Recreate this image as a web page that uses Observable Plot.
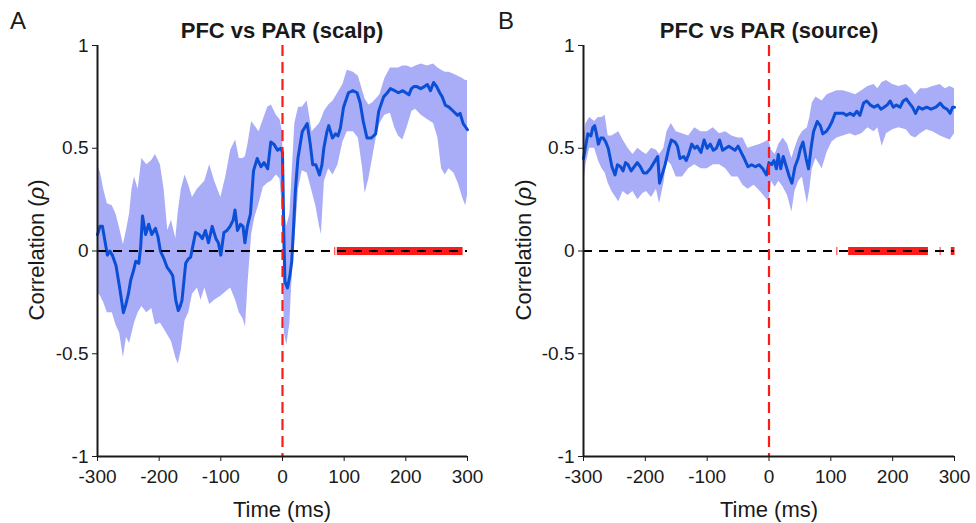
<!DOCTYPE html>
<html><head><meta charset="utf-8">
<script src="https://cdn.jsdelivr.net/npm/d3@7"></script>
<script src="https://cdn.jsdelivr.net/npm/@observablehq/plot@0.6"></script>
<style>
body{margin:0;background:#fff;font-family:"Liberation Sans",Arial,sans-serif;}
#wrap{position:relative;width:976px;height:523px;overflow:hidden;}
.panel{position:absolute;top:0;}
.lbl{position:absolute;color:#1a1a1a;white-space:nowrap;line-height:1;}
.title{font-weight:bold;font-size:22px;text-align:center;width:320px;}
.ylab{font-size:22px;transform:translate(-50%,-50%) rotate(-90deg);}
.xlab{font-size:22px;transform:translate(-50%,-50%);}
.letter{font-size:24px;}
</style></head>
<body><div id="wrap"></div>
<script>
// ---- shared axes ----
const xTicks = [-300, -200, -100, 0, 100, 200, 300];
const yTicks = [-1, -0.5, 0, 0.5, 1];
const yTickLabels = ["-1", "-0.5", "0", "0.5", "1"];
const titles = ["PFC vs PAR (scalp)", "PFC vs PAR (source)"];
const panelLetters = ["A", "B"];

// ---- Panel A (scalp): mean correlation ----
const scalpT = [-300,-296,-292,-288,-284,-280,-276,-270,-264,-258,-254,-250,-246,-242,-238,-233,-230,-227,-222,-217,-212,-206,-202,-198,-192,-187,-182,-178,-173,-169,-166,-163,-157,-153,-149,-145,-141,-135,-130,-125,-120,-114,-108,-104,-100,-95,-90,-85,-80,-77,-73,-68,-64,-61,-57,-52,-47,-41,-35,-30,-24,-19,-14,-8,-3,0,2,4,8,12,15,18,21,25,32,40,45,49,54,60,64,67,72,75,81,86,90,94,99,107,114,121,126,131,137,144,151,156,164,170,175,182,188,195,200,205,209,213,218,224,230,235,240,245,250,255,259,264,270,277,284,288,293,300];
const scalpV = [0.08,0.12,0.12,0.05,-0.02,0.0,-0.02,-0.07,-0.18,-0.30,-0.26,-0.21,-0.14,-0.10,-0.05,-0.06,0.02,0.17,0.08,0.13,0.08,0.11,0.07,0.0,-0.04,-0.08,-0.10,-0.12,-0.24,-0.29,-0.27,-0.24,-0.06,-0.04,-0.03,0.03,0.09,0.08,0.06,0.10,0.04,0.12,0.06,0.04,-0.02,0.09,0.10,0.12,0.15,0.20,0.10,0.13,0.12,0.04,0.12,0.18,0.39,0.45,0.41,0.43,0.40,0.53,0.52,0.49,0.50,0.48,0.10,-0.15,-0.18,-0.12,-0.05,0.12,0.30,0.45,0.58,0.62,0.52,0.42,0.42,0.37,0.42,0.50,0.58,0.61,0.55,0.57,0.56,0.60,0.70,0.77,0.78,0.77,0.72,0.63,0.55,0.55,0.57,0.68,0.75,0.77,0.79,0.78,0.77,0.78,0.77,0.76,0.79,0.80,0.80,0.79,0.80,0.81,0.78,0.82,0.80,0.77,0.75,0.71,0.70,0.68,0.66,0.67,0.62,0.59];
// Panel A confidence band
const scalpBandT = [-300,-295,-290,-284,-276,-270,-264,-258,-253,-248,-244,-240,-234,-228,-220,-212,-206,-198,-192,-186,-180,-173,-169,-164,-158,-152,-146,-138,-132,-126,-118,-110,-100,-92,-84,-76,-70,-64,-60,-56,-50,-45,-38,-31,-24,-18,-10,-4,0,3,7,12,16,20,26,32,40,48,54,60,63,68,75,82,90,98,105,115,123,130,134,140,146,152,158,166,175,182,188,195,202,210,216,225,235,245,252,258,264,270,278,285,292,297,300];
const scalpLo = [-0.20,-0.22,-0.25,-0.30,-0.30,-0.36,-0.40,-0.52,-0.42,-0.45,-0.40,-0.35,-0.30,-0.27,-0.30,-0.28,-0.36,-0.35,-0.38,-0.41,-0.44,-0.52,-0.55,-0.48,-0.34,-0.30,-0.21,-0.18,-0.24,-0.18,-0.26,-0.24,-0.22,-0.20,-0.18,-0.24,-0.30,-0.33,-0.37,-0.16,0.08,0.16,0.23,0.31,0.33,0.34,0.37,0.35,0.20,-0.40,-0.46,-0.35,-0.10,0.05,0.30,0.39,0.38,0.29,0.22,0.12,0.08,0.34,0.40,0.37,0.42,0.53,0.58,0.58,0.55,0.40,0.28,0.35,0.45,0.55,0.62,0.66,0.67,0.60,0.56,0.54,0.60,0.68,0.69,0.66,0.64,0.62,0.55,0.40,0.37,0.40,0.38,0.33,0.26,0.22,0.27];
const scalpHi = [0.42,0.38,0.30,0.23,0.22,0.18,0.11,0.03,0.10,0.18,0.30,0.36,0.30,0.45,0.42,0.44,0.47,0.42,0.30,0.10,0.15,0.06,0.19,0.30,0.37,0.32,0.26,0.30,0.32,0.34,0.42,0.34,0.26,0.36,0.49,0.54,0.45,0.45,0.46,0.52,0.63,0.61,0.58,0.64,0.70,0.71,0.66,0.64,0.58,0.20,0.12,0.18,0.40,0.62,0.70,0.70,0.73,0.58,0.60,0.62,0.64,0.68,0.71,0.73,0.77,0.81,0.88,0.87,0.85,0.78,0.74,0.71,0.72,0.74,0.76,0.84,0.89,0.89,0.89,0.90,0.90,0.89,0.90,0.91,0.90,0.91,0.89,0.88,0.87,0.87,0.86,0.85,0.84,0.83,0.83];
// Panel A significant intervals (ms)
const scalpSig = [[84, 85.5], [88, 292]];

// ---- Panel B (source): mean correlation ----
const sourceT = [-300,-296,-293,-288,-285,-282,-279,-276,-272,-268,-264,-260,-254,-249,-245,-240,-236,-232,-228,-223,-218,-213,-208,-203,-198,-192,-186,-180,-177,-173,-168,-162,-158,-152,-148,-144,-138,-134,-130,-125,-120,-116,-110,-105,-100,-95,-90,-85,-80,-75,-70,-65,-60,-55,-50,-45,-40,-34,-28,-22,-16,-10,-4,0,4,8,12,15,19,23,28,33,37,42,47,51,55,60,64,68,72,78,83,87,92,97,102,107,113,120,125,131,137,142,147,153,158,164,170,176,181,186,191,196,201,206,212,217,222,227,232,237,242,248,255,262,270,277,282,288,293,297,300];
const sourceV = [0.45,0.52,0.57,0.56,0.60,0.61,0.57,0.52,0.55,0.55,0.53,0.50,0.41,0.37,0.42,0.41,0.39,0.43,0.42,0.39,0.41,0.43,0.41,0.38,0.38,0.40,0.43,0.46,0.33,0.37,0.42,0.50,0.54,0.53,0.51,0.45,0.46,0.44,0.47,0.52,0.50,0.51,0.48,0.54,0.50,0.52,0.49,0.50,0.54,0.49,0.50,0.51,0.50,0.49,0.51,0.48,0.45,0.41,0.42,0.41,0.42,0.40,0.37,0.43,0.42,0.44,0.40,0.47,0.40,0.46,0.41,0.36,0.33,0.41,0.45,0.50,0.53,0.45,0.40,0.50,0.58,0.63,0.61,0.57,0.58,0.60,0.63,0.67,0.67,0.67,0.66,0.67,0.66,0.68,0.66,0.72,0.73,0.71,0.70,0.71,0.69,0.70,0.71,0.73,0.70,0.71,0.70,0.73,0.74,0.72,0.70,0.67,0.70,0.69,0.70,0.69,0.70,0.72,0.70,0.69,0.67,0.70,0.70];
// Panel B confidence band
const sourceBandT = [-300,-296,-290,-282,-276,-270,-265,-260,-254,-243,-236,-228,-220,-212,-204,-198,-190,-182,-177,-170,-165,-158,-150,-140,-130,-120,-110,-100,-90,-80,-70,-60,-50,-42,-34,-24,-14,-6,0,4,10,16,23,30,37,42,48,54,62,66,70,76,86,94,102,110,120,131,140,150,160,170,176,183,190,200,210,222,230,237,245,255,265,277,285,293,300];
const sourceLo = [0.31,0.42,0.50,0.50,0.44,0.40,0.38,0.33,0.29,0.24,0.29,0.27,0.29,0.25,0.28,0.29,0.26,0.30,0.23,0.33,0.44,0.42,0.36,0.36,0.40,0.42,0.40,0.40,0.42,0.42,0.40,0.36,0.36,0.32,0.30,0.32,0.29,0.26,0.24,0.34,0.31,0.34,0.31,0.27,0.19,0.29,0.34,0.36,0.23,0.30,0.40,0.45,0.40,0.48,0.53,0.55,0.56,0.57,0.56,0.57,0.60,0.58,0.60,0.51,0.57,0.59,0.60,0.59,0.56,0.55,0.57,0.59,0.58,0.56,0.55,0.54,0.57];
const sourceHi = [0.54,0.62,0.65,0.63,0.65,0.65,0.66,0.56,0.56,0.58,0.54,0.50,0.47,0.50,0.48,0.47,0.50,0.49,0.47,0.50,0.58,0.62,0.58,0.57,0.56,0.60,0.58,0.58,0.60,0.57,0.58,0.56,0.55,0.55,0.50,0.51,0.52,0.53,0.54,0.49,0.47,0.52,0.55,0.52,0.45,0.50,0.55,0.58,0.60,0.65,0.72,0.75,0.73,0.76,0.77,0.78,0.78,0.77,0.76,0.78,0.80,0.81,0.79,0.82,0.83,0.81,0.80,0.81,0.79,0.76,0.79,0.79,0.80,0.81,0.79,0.80,0.79];
// Panel B significant intervals (ms)
const sourceSig = [[109, 110.5], [128, 257], [276, 277.5], [294, 300]];

// ---- colours ----
const bandColor = "#a9acf6";
const lineColor = "#0a4fd6";
const zeroTimeColor = "#ff1a1a";
const sigColor = "#ff1a1a";
const textColor = "#1a1a1a";

function makePanel(T, V, BT, BLo, BHi, sig, marginLeft, marginRight) {
  const line = T.map((t, i) => ({t, v: V[i]}));
  const band = BT.map((t, i) => ({t, lo: BLo[i], hi: BHi[i]}));
  const sigs = sig.map(([a, b]) => ({a, b}));
  return Plot.plot({
    width: 488, height: 523,
    marginTop: 45, marginBottom: 67, marginLeft, marginRight,
    style: {fontFamily: "'Liberation Sans', Arial, sans-serif", fontSize: "19px", color: textColor, background: "transparent", overflow: "visible"},
    x: {domain: [-300, 300], ticks: xTicks, tickFormat: d => String(d), tickSize: 5, tickPadding: 8, label: null},
    y: {domain: [-1, 1], ticks: yTicks, tickFormat: d => yTickLabels[yTicks.indexOf(d)], tickSize: 5, tickPadding: 4, label: null},
    marks: [
      Plot.areaY(band, {x: "t", y1: "lo", y2: "hi", fill: bandColor}),
      Plot.line(line, {x: "t", y: "v", stroke: lineColor, strokeWidth: 3, strokeLinejoin: "round"}),
      Plot.link(sigs, {x1: "a", x2: "b", y1: 0, y2: 0, stroke: sigColor, strokeWidth: 8, strokeLinecap: "butt"}),
      Plot.ruleY([0], {stroke: "#000", strokeWidth: 2, strokeDasharray: "9,7"}),
      Plot.ruleX([0], {stroke: zeroTimeColor, strokeWidth: 2.2, strokeDasharray: "11,6"}),
      Plot.ruleX([-300], {stroke: textColor, strokeWidth: 2}),
      Plot.ruleY([-1], {stroke: textColor, strokeWidth: 2})
    ]
  });
}

const wrap = document.getElementById("wrap");
const pA = makePanel(scalpT, scalpV, scalpBandT, scalpLo, scalpHi, scalpSig, 97, 21);
const pB = makePanel(sourceT, sourceV, sourceBandT, sourceLo, sourceHi, sourceSig, 95, 22);
const dA = document.createElement("div"); dA.className = "panel"; dA.style.left = "0px"; dA.appendChild(pA);
const dB = document.createElement("div"); dB.className = "panel"; dB.style.left = "488px"; dB.appendChild(pB);
wrap.appendChild(dA); wrap.appendChild(dB);

function addLabel(html, cls, left, top) {
  const d = document.createElement("div");
  d.className = "lbl " + cls;
  d.innerHTML = html;
  d.style.left = left + "px"; d.style.top = top + "px";
  wrap.appendChild(d);
}
const centers = [282, 769];
const ylabX = [37, 524];
const letterX = [10, 498];
for (let i = 0; i < 2; i++) {
  addLabel(panelLetters[i], "letter", letterX[i], 9);
  addLabel(titles[i], "title", centers[i] - 160, 20);
  addLabel("Time (ms)", "xlab", centers[i], 510);
  addLabel("Correlation (<i>ρ</i>)", "ylab", ylabX[i], 250);
}
</script>
</body></html>
